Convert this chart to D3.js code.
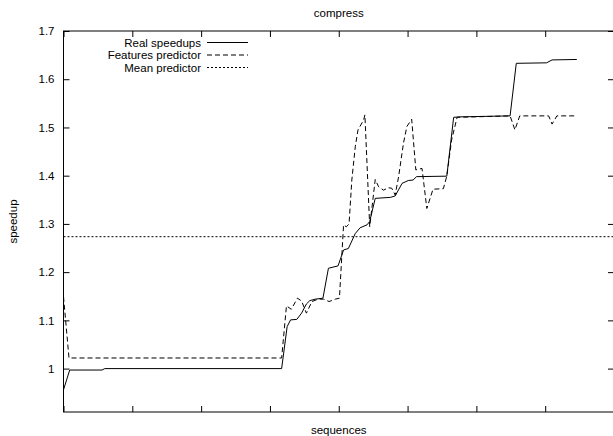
<!DOCTYPE html>
<html>
<head>
<meta charset="utf-8">
<script src="https://cdn.jsdelivr.net/npm/d3@7"></script>
<style>
  html, body { margin: 0; padding: 0; background: #fff; }
  svg { display: block; font-family: "Liberation Sans", Arial, Helvetica, sans-serif; }
</style>
</head>
<body>
<svg id="chart" width="613" height="436"></svg>
<script>
// Sequence index (x) and speedup (y) for each curve
const realX = [0, 9, 56, 60, 317, 325, 330, 339, 346, 353, 358, 366, 377, 385, 399, 407, 414, 424, 431, 441, 445, 453, 475, 482, 492, 501, 508, 513, 557, 567, 576, 649, 658, 702, 710, 746];
const realY = [0.956, 0.997, 0.997, 1.000, 1.000, 1.087, 1.101, 1.102, 1.115, 1.134, 1.141, 1.144, 1.146, 1.208, 1.213, 1.246, 1.249, 1.280, 1.292, 1.298, 1.305, 1.353, 1.355, 1.358, 1.384, 1.390, 1.391, 1.398, 1.399, 1.521, 1.522, 1.524, 1.633, 1.634, 1.640, 1.641];

const featX = [0, 8, 317, 324, 331, 340, 346, 353, 361, 370, 378, 386, 395, 401, 407, 411, 415, 419, 424, 428, 436, 438, 445, 453, 458, 465, 472, 477, 482, 487, 494, 499, 506, 512, 521, 528, 537, 552, 557, 564, 572, 649, 656, 663, 705, 710, 717, 746];
const featY = [1.149, 1.022, 1.022, 1.130, 1.123, 1.146, 1.140, 1.115, 1.139, 1.144, 1.144, 1.139, 1.144, 1.146, 1.298, 1.294, 1.300, 1.391, 1.460, 1.495, 1.515, 1.526, 1.294, 1.392, 1.377, 1.370, 1.375, 1.374, 1.360, 1.398, 1.467, 1.502, 1.517, 1.412, 1.415, 1.332, 1.372, 1.373, 1.399, 1.474, 1.521, 1.524, 1.495, 1.524, 1.524, 1.507, 1.524, 1.524];

const meanValue = 1.2735;

const yTicks = [1, 1.1, 1.2, 1.3, 1.4, 1.5, 1.6, 1.7];
const xTicks = [0, 100, 200, 300, 400, 500, 600, 700, 800];
const legendLabels = ["Real speedups", "Features predictor", "Mean predictor"];

const svg = d3.select("#chart");
const plotLeft = 63.5, plotRight = 614, plotTop = 31, plotBottom = 412;

const x = d3.scaleLinear().domain([0, 800]).range([plotLeft, plotRight]);
const y = d3.scaleLinear().domain([0.91, 1.7]).range([plotBottom, plotTop]);

const tickLen = 6;

// Frame
svg.append("rect")
  .attr("x", plotLeft).attr("y", plotTop)
  .attr("width", plotRight - plotLeft).attr("height", plotBottom - plotTop)
  .attr("fill", "none").attr("stroke", "#000").attr("stroke-width", 1);

// Axes with inward ticks, mirrored on the opposite side
const yAxis = d3.axisLeft(y).tickValues(yTicks).tickSize(-tickLen).tickPadding(9)
  .tickFormat(d => String(+d.toFixed(1)));
const gy = svg.append("g").attr("transform", `translate(${plotLeft},0)`).call(yAxis);
gy.select(".domain").remove();
gy.selectAll("text").attr("font-size", "11.5px").attr("fill", "#000")
  .attr("font-family", "Liberation Sans, Arial, sans-serif");

const gyr = svg.append("g").attr("transform", `translate(${plotRight},0)`)
  .call(d3.axisRight(y).tickValues(yTicks).tickSize(-tickLen).tickFormat(""));
gyr.select(".domain").remove();

const gx = svg.append("g").attr("transform", `translate(0,${plotBottom})`)
  .call(d3.axisBottom(x).tickValues(xTicks).tickSize(-tickLen).tickFormat(""));
gx.select(".domain").remove();

const gxt = svg.append("g").attr("transform", `translate(0,${plotTop})`)
  .call(d3.axisTop(x).tickValues(xTicks).tickSize(-tickLen).tickFormat(""));
gxt.select(".domain").remove();

svg.selectAll(".tick line").attr("stroke", "#000");

// Curves, clipped to the plot area
svg.append("clipPath").attr("id", "plot-clip")
  .append("rect").attr("x", plotLeft).attr("y", plotTop)
  .attr("width", plotRight - plotLeft).attr("height", plotBottom - plotTop);

const plot = svg.append("g").attr("clip-path", "url(#plot-clip)");
const line = d3.line().x(d => x(d[0])).y(d => y(d[1]));

plot.append("path")
  .datum([[0, meanValue], [800, meanValue]])
  .attr("d", line).attr("fill", "none").attr("stroke", "#000")
  .attr("stroke-width", 1).attr("stroke-dasharray", "2,2");

plot.append("path")
  .datum(featX.map((v, i) => [v, featY[i]]))
  .attr("d", line).attr("fill", "none").attr("stroke", "#000")
  .attr("stroke-width", 1).attr("stroke-dasharray", "5,3");

plot.append("path")
  .datum(realX.map((v, i) => [v, realY[i]]))
  .attr("d", line).attr("fill", "none").attr("stroke", "#000")
  .attr("stroke-width", 1);

// Legend
const dashes = [null, "5,3", "2,2"];
const legend = svg.append("g");
legendLabels.forEach((label, i) => {
  const by = 46.5 + i * 12.5;
  legend.append("text")
    .attr("x", 201).attr("y", by)
    .attr("text-anchor", "end").attr("font-size", "11.5px").attr("fill", "#000")
    .text(label);
  legend.append("line")
    .attr("x1", 207).attr("x2", 248)
    .attr("y1", by - 4).attr("y2", by - 4)
    .attr("stroke", "#000").attr("stroke-width", 1)
    .attr("stroke-dasharray", dashes[i]);
});

// Title and axis labels
svg.append("text").attr("x", (plotLeft + plotRight) / 2).attr("y", 17)
  .attr("text-anchor", "middle").attr("font-size", "11.5px").text("compress");

svg.append("text").attr("x", (plotLeft + plotRight) / 2).attr("y", 434)
  .attr("text-anchor", "middle").attr("font-size", "11.5px").text("sequences");

svg.append("text")
  .attr("transform", `translate(17,${(plotTop + plotBottom) / 2}) rotate(-90)`)
  .attr("text-anchor", "middle").attr("font-size", "11.5px").text("speedup");
</script>
</body>
</html>
